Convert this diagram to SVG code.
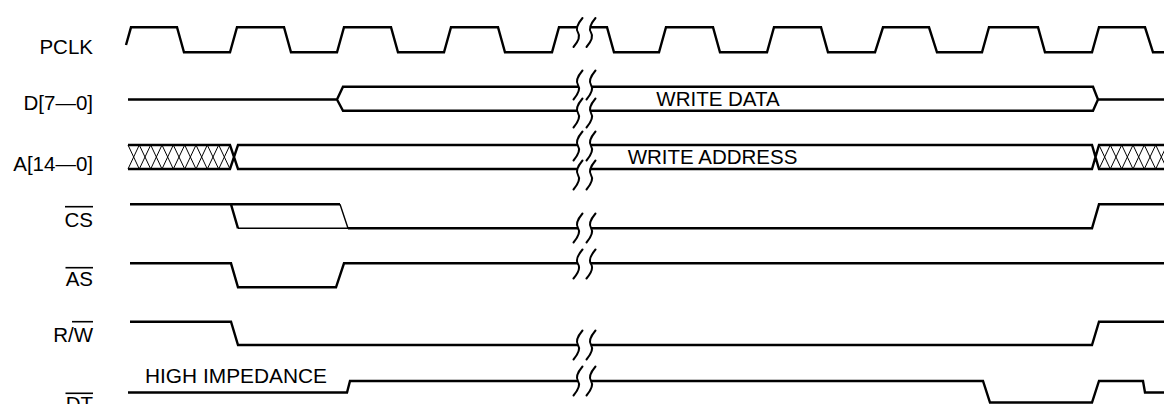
<svg xmlns="http://www.w3.org/2000/svg" width="1164" height="404" viewBox="0 0 1164 404">
<defs>
<style>
.w{fill:none;stroke:#000;stroke-width:2.4;stroke-linejoin:miter;stroke-linecap:butt}
.t{fill:none;stroke:#000;stroke-width:1.4}
.h{fill:none;stroke:#000;stroke-width:1}
.b{fill:none;stroke:#000;stroke-width:2;stroke-linecap:round}
.ol{stroke:#000;stroke-width:1.6}
text{font-family:"Liberation Sans",Arial,sans-serif;font-size:20.5px;fill:#000}
.lbl{text-anchor:end}
</style>
<path id="brk" class="b" d="M-2,-14.5 Q-10,-5 -6.5,0 Q-3,5 -11,14.5 M11,-14.5 Q3,-5 6.5,0 Q10,5 2,14.5"/>
</defs>
<rect width="1164" height="404" fill="#fff"/>

<g id="pclk">
<text class="lbl" x="93" y="54">PCLK</text>
<path class="w" d="M126,45 L131,27.3 L177,27.3 L184,52.3 L230,52.3 L237,27.3 L284,27.3 L291,52.3 L337,52.3 L344,27.3 L391,27.3 L398,52.3 L444,52.3 L451,27.3 L498,27.3 L505,52.3 L552,52.3 L559,27.3 L578,27.3"/>
<path class="w" d="M591,27.3 L607,27.3 L614,52.3 L659,52.3 L666,27.3 L713,27.3 L720,52.3 L767,52.3 L774,27.3 L821,27.3 L828,52.3 L875,52.3 L883,27.3 L929,27.3 L937,52.3 L982,52.3 L989,27.3 L1038,27.3 L1045,52.3 L1092,52.3 L1099,27.3 L1145,27.3 L1153,52.3 L1164,52.3"/>
</g>

<g id="data">
<text class="lbl" x="93" y="110">D[7—0]</text>
<path class="w" d="M128,99.5 L337,99.5 M578,86.7 L343,86.7 L337,99.5 L343,110.7 L578,110.7"/>
<path class="w" d="M591,86.7 L1093,86.7 L1098,99.5 L1093,110.7 L591,110.7 M1098,99.5 L1164,99.5"/>
<text x="718" y="106" text-anchor="middle">WRITE DATA</text>
</g>

<g id="addr">
<text class="lbl" x="93" y="170.5">A[14—0]</text>
<path class="w" d="M128,145 L230,145 L238,169 L578,169 M128,169 L230,169 L238,145 L578,145"/>
<path class="w" d="M591,145 L1092,145 L1099,169 L1164,169 M591,169 L1092,169 L1099,145 L1164,145"/>
<path class="h" d="M128,145L139.3,169M128,169L139.3,145 M139.3,145L150.7,169M139.3,169L150.7,145 M150.7,145L162,169M150.7,169L162,145 M162,145L173.3,169M162,169L173.3,145 M173.3,145L184.7,169M173.3,169L184.7,145 M184.7,145L196,169M184.7,169L196,145 M196,145L207.3,169M196,169L207.3,145 M207.3,145L218.7,169M207.3,169L218.7,145 M218.7,145L230,169M218.7,169L230,145"/>
<path class="h" d="M1099,145L1110.3,169M1099,169L1110.3,145 M1110.3,145L1121.7,169M1110.3,169L1121.7,145 M1121.7,145L1133,169M1121.7,169L1133,145 M1133,145L1144.3,169M1133,169L1144.3,145 M1144.3,145L1155.7,169M1144.3,169L1155.7,145 M1155.7,145L1167,169M1155.7,169L1167,145"/>
<text x="712.5" y="164" text-anchor="middle">WRITE ADDRESS</text>
</g>

<g id="cs">
<text class="lbl" x="93" y="226.7">CS</text>
<line class="ol" x1="65" y1="206.7" x2="93" y2="206.7"/>
<path class="w" d="M130,204.3 L340,204.3 M231,204.3 L238,228.3"/>
<path class="t" d="M238,228.3 L348,228.3 M340,204.3 L348,228.3"/>
<path class="w" d="M348,228.3 L578,228.3 M591,228.3 L1092,228.3 L1099,204.3 L1164,204.3"/>
</g>

<g id="as">
<text class="lbl" x="93" y="286.3">AS</text>
<line class="ol" x1="65.5" y1="267.7" x2="93" y2="267.7"/>
<path class="w" d="M130,263.3 L231,263.3 L238,287.3 L336,287.3 L344,263.3 L578,263.3 M591,263.3 L1164,263.3"/>
</g>

<g id="rw">
<text class="lbl" x="93" y="341.7">R/W</text>
<line class="ol" x1="72" y1="321.7" x2="93" y2="321.7"/>
<path class="w" d="M130,321.7 L231,321.7 L238,345 L578,345 M591,345 L1092,345 L1099,321.7 L1164,321.7"/>
</g>

<g id="dt">
<text class="lbl" x="93" y="411">DT</text>
<line class="ol" x1="65.5" y1="393.3" x2="93" y2="393.3"/>
<text x="145" y="382.7" textLength="182" lengthAdjust="spacingAndGlyphs">HIGH IMPEDANCE</text>
<path class="w" d="M128,392.5 L347,392.5 L350,381 L578,381 M591,381 L983,381 L990,402.5 L1092,402.5 L1099,381 L1143,381 L1145,392.5 L1164,392.5"/>
</g>

<g id="connectors">
<use href="#brk" x="584.5" y="32.5"/>
<use href="#brk" x="584.5" y="85"/>
<use href="#brk" x="584.5" y="113"/>
<use href="#brk" x="584.5" y="146"/>
<use href="#brk" x="584.5" y="175"/>
<use href="#brk" x="584.5" y="228"/>
<use href="#brk" x="584.5" y="264"/>
<use href="#brk" x="584.5" y="345"/>
<use href="#brk" x="584.5" y="381"/>
</g>
</svg>
